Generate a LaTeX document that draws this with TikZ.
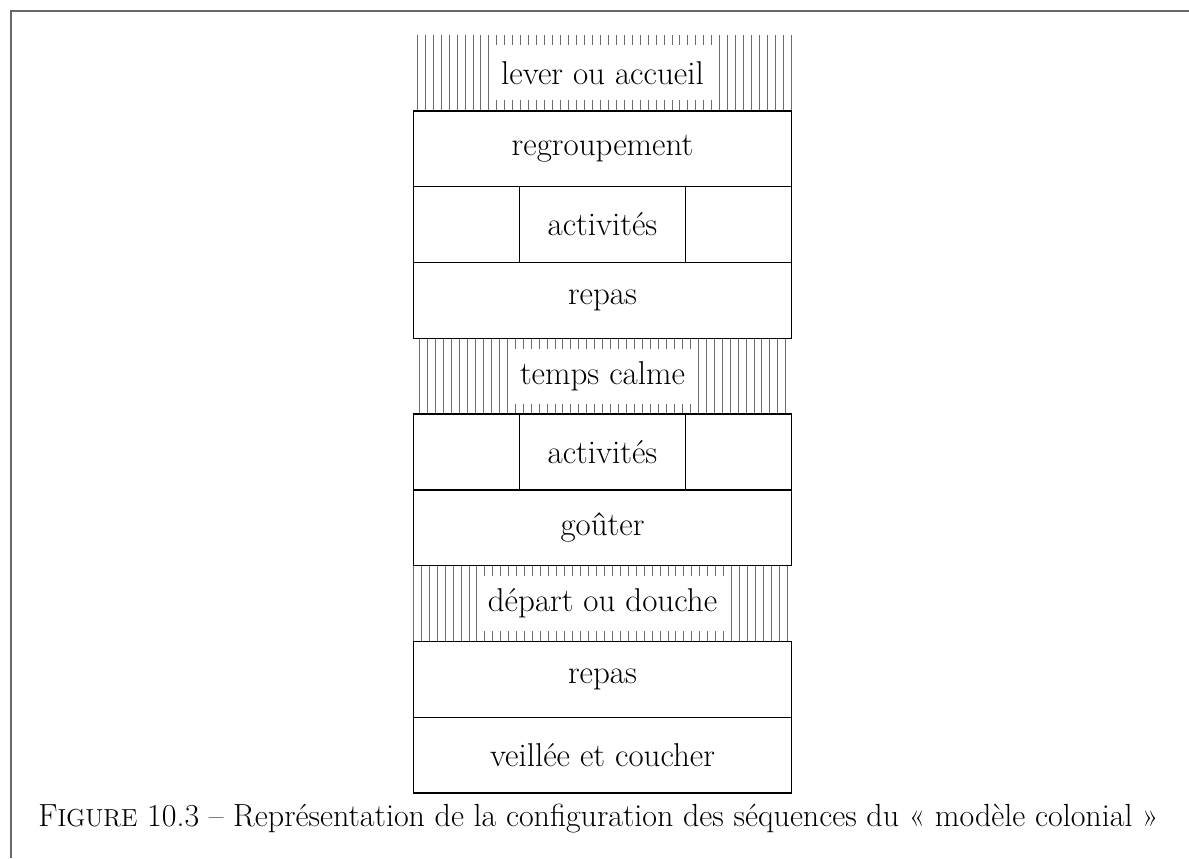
\documentclass[tikz,border=0pt]{standalone}
\usepackage{fontspec}
\setmainfont{Latin Modern Roman}
\definecolor{framegray}{RGB}{105,105,105}
\definecolor{hatchgray}{RGB}{110,110,110}
\newcommand{\boxfont}{\fontsize{16.5}{19}\selectfont}
\newcommand{\capfont}{\fontsize{16}{19}\selectfont}
\newcommand{\fakesc}[1]{{\fontsize{12.3}{15}\selectfont #1}}
\tikzset{
  rowbox/.style={draw=black, line width=0.7pt, minimum width=189.2pt, minimum height=37.9pt, inner sep=0pt, outer sep=0pt, font=\boxfont},
  innerbox/.style={draw=black, line width=0.7pt, minimum width=83.2pt, minimum height=37.9pt, inner sep=0pt, outer sep=0pt, font=\boxfont},
  hatchlabel/.style={fill=white, inner xsep=4pt, inner ysep=0pt, minimum height=27.5pt, font=\boxfont},
  hatchline/.style={draw=hatchgray, line width=0.5pt},
  frameline/.style={draw=framegray, line width=1pt},
  captionstyle/.style={font=\capfont, inner sep=0pt}
}
\begin{document}
\begin{tikzpicture}[x=0.5pt,y=-0.5pt]
\useasboundingbox (0,0) rectangle (1189,858);
% frame of the page crop
\draw[frameline] (11,858) -- (11,11) -- (1189,11);
% hatched rows
\foreach \k in {0,...,47}{\draw[hatchline] ({417.3+7.96*\k},35) -- ({417.3+7.96*\k},110.8);}
\foreach \k in {0,...,46}{\draw[hatchline] ({419.7+7.96*\k},338.2) -- ({419.7+7.96*\k},414);}
\foreach \k in {0,...,47}{\draw[hatchline] ({413.3+7.96*\k},565.6) -- ({413.3+7.96*\k},641.4);}
% rows
\node[hatchlabel] (r1) at (602.5,72.9) {lever ou accueil};
\node[rowbox] (r2) at (602.5,148.7) {regroupement};
\node[rowbox] (r3) at (602.5,224.5) {};
\node[innerbox] (r3a) at (602.5,224.5) {activités};
\node[rowbox] (r4) at (602.5,300.3) {repas};
\node[hatchlabel] (r5) at (602.5,376.1) {temps calme};
\node[rowbox] (r6) at (602.5,451.9) {};
\node[innerbox] (r6a) at (602.5,451.9) {activités};
\node[rowbox] (r7) at (602.5,527.7) {goûter};
\node[hatchlabel] (r8) at (602.5,603.5) {départ ou douche};
\node[rowbox] (r9) at (602.5,679.3) {repas};
\node[rowbox] (r10) at (602.5,755.1) {veillée et coucher};
% caption
\node[captionstyle] (cap) at (598.5,819) {F\fakesc{IGURE} 10.3 – Représentation de la configuration des séquences du «~modèle colonial~»};
\end{tikzpicture}
\end{document}
